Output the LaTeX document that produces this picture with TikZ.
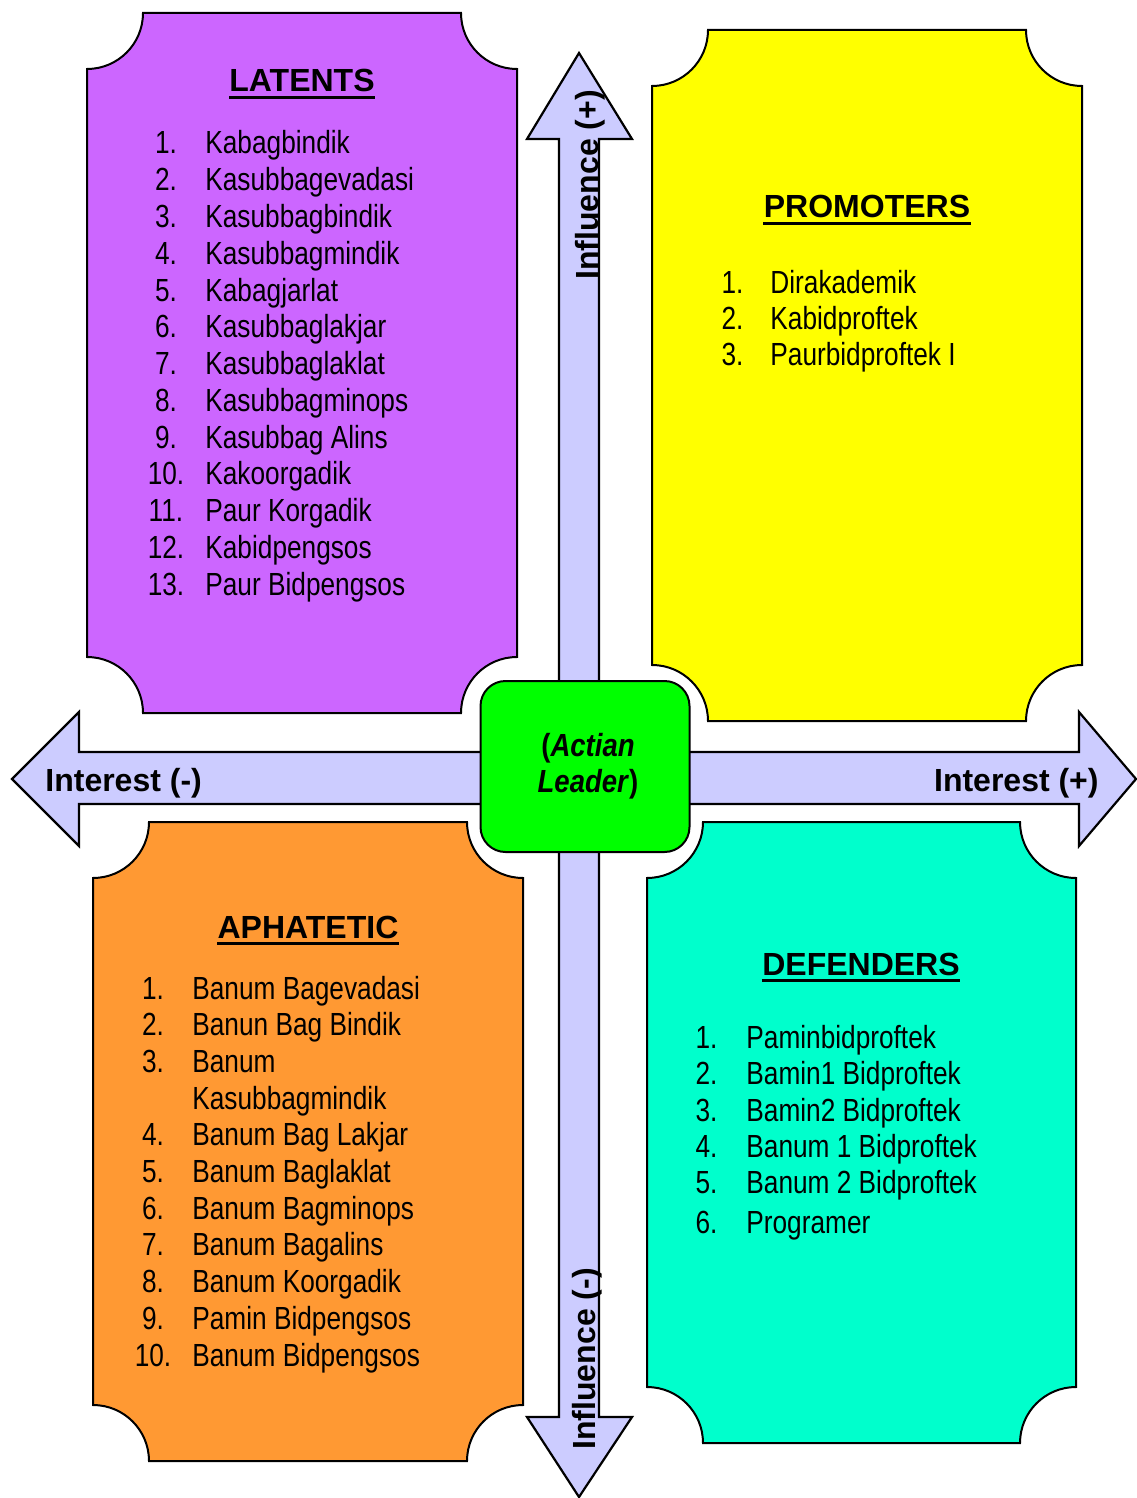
\documentclass[tikz,border=0pt]{standalone}
\usepackage{fontspec}
\setmainfont{Liberation Sans}
\newfontfamily\narrowfont[FakeStretch=0.82]{Liberation Sans}
\newfontfamily\leaderfont[FakeStretch=0.86]{Liberation Sans}
\definecolor{latentc}{HTML}{CC66FF}
\definecolor{promoc}{HTML}{FFFF00}
\definecolor{aphac}{HTML}{FF9933}
\definecolor{defc}{HTML}{00FFCC}
\definecolor{leaderc}{HTML}{00FF00}
\definecolor{arrowc}{HTML}{CCCCFF}
\newcommand\plaque[5]{%
  \path[boxline, fill=#5] (#1+56,#2) -- (#3-56,#2)
    arc[start angle=180, end angle=90, radius=56] -- (#3,#4-56)
    arc[start angle=270, end angle=180, radius=56] -- (#1+56,#4)
    arc[start angle=0, end angle=-90, radius=56] -- (#1,#2+56)
    arc[start angle=90, end angle=0, radius=56] -- cycle;}
\begin{document}
\begin{tikzpicture}[x=0.5pt,y=-0.5pt,
  boxline/.style={draw=black, line width=1pt},
  arrowshape/.style={draw=black, line width=1.1pt, fill=arrowc, line join=miter},
  item/.style={inner sep=0pt, font=\narrowfont\fontsize{16}{18}\selectfont},
  titletext/.style={inner sep=0pt, anchor=base, font=\bfseries\fontsize{16}{18}\selectfont},
  axislabel/.style={inner sep=0pt, font=\bfseries\fontsize{16}{18}\selectfont},
  uline/.style={line width=1.5pt}]
\useasboundingbox (0,0) rectangle (1136,1498);

% quadrant boxes
\plaque{87}{13}{517}{713}{latentc}
\plaque{652}{30}{1082}{721}{promoc}
\plaque{93}{822}{523}{1461}{aphac}
\plaque{647}{822}{1076}{1443}{defc}

% axis arrows
\path[arrowshape] (579,53) -- (632,139) -- (599,139) -- (599,1417) -- (632,1417)
  -- (579,1497) -- (527,1417) -- (559,1417) -- (559,139) -- (527,139) -- cycle;
\path[arrowshape] (12,779) -- (79,712) -- (79,752) -- (1079,752) -- (1079,712)
  -- (1136,779) -- (1079,846) -- (1079,804) -- (79,804) -- (79,846) -- cycle;

% center box
\node[draw=black, line width=1pt, fill=leaderc, rounded corners=12.5pt,
  minimum width=104.5pt, minimum height=85.5pt, inner sep=0pt] (leader) at (585,766.5) {};
\node[inner sep=0pt, align=center, font=\leaderfont\bfseries\fontsize{16}{18}\selectfont]
  (leadertext) at (588,766) {(\textit{Actian}\\\textit{Leader})};

% axis labels
\node[axislabel, anchor=base west] (intminus) at (45,791) {Interest (-)};
\node[axislabel, anchor=base east] (intplus) at (1099,791) {Interest (+)};
\node[axislabel, rotate=90, anchor=base west] (infplus) at (598,280) {Influence (+)};
\node[axislabel, rotate=90, anchor=base west] (infminus) at (595,1450) {Influence (-)};

% titles
\node[titletext] (tlat) at (302,92) {LATENTS};
\node[titletext] (tpro) at (867,218) {PROMOTERS};
\node[titletext] (taph) at (308,938) {APHATETIC};
\node[titletext] (tdef) at (861,975) {DEFENDERS};
\foreach \t in {tlat,tpro,taph,tdef}
  \draw[uline] ([yshift=-2.75pt]\t.base west) -- ([yshift=-2.75pt]\t.base east);

% latents list
\foreach \t [count=\i] in {Kabagbindik, Kasubbagevadasi, Kasubbagbindik, Kasubbagmindik,
  Kabagjarlat, Kasubbaglakjar, Kasubbaglaklat, Kasubbagminops, Kasubbag Alins,
  Kakoorgadik, Paur Korgadik, Kabidpengsos, Paur Bidpengsos} {
  \node[item, anchor=base] (latn\i) at (166,{154+36.75*(\i-1)}) {\i.};
  \node[item, anchor=base west] (lat\i) at (205,{154+36.75*(\i-1)}) {\t};
}

% promoters list
\foreach \t [count=\i] in {Dirakademik, Kabidproftek, Paurbidproftek I} {
  \node[item, anchor=base] (pron\i) at (732.5,{293+36*(\i-1)}) {\i.};
  \node[item, anchor=base west] (pro\i) at (770,{293+36*(\i-1)}) {\t};
}

% aphatetic list
\foreach \n/\t/\k in {1/Banum Bagevadasi/0, 2/Banun Bag Bindik/1, 3/Banum/2,
  4/Banum Bag Lakjar/4, 5/Banum Baglaklat/5, 6/Banum Bagminops/6,
  7/Banum Bagalins/7, 8/Banum Koorgadik/8, 9/Pamin Bidpengsos/9, 10/Banum Bidpengsos/10} {
  \node[item, anchor=base] (aphn\n) at (153,{999+36.7*\k}) {\n.};
  \node[item, anchor=base west] (aph\n) at (192,{999+36.7*\k}) {\t};
}
\node[item, anchor=base west] (aph3b) at (192,{999+36.7*3}) {Kasubbagmindik};

% defenders list
\foreach \t/\y [count=\i] in {Paminbidproftek/1048, Bamin1 Bidproftek/1084.5,
  Bamin2 Bidproftek/1121, Banum 1 Bidproftek/1157.5, Banum 2 Bidproftek/1193,
  Programer/1233} {
  \node[item, anchor=base] (defn\i) at (706.5,\y) {\i.};
  \node[item, anchor=base west] (def\i) at (746,\y) {\t};
}
\end{tikzpicture}
\end{document}
